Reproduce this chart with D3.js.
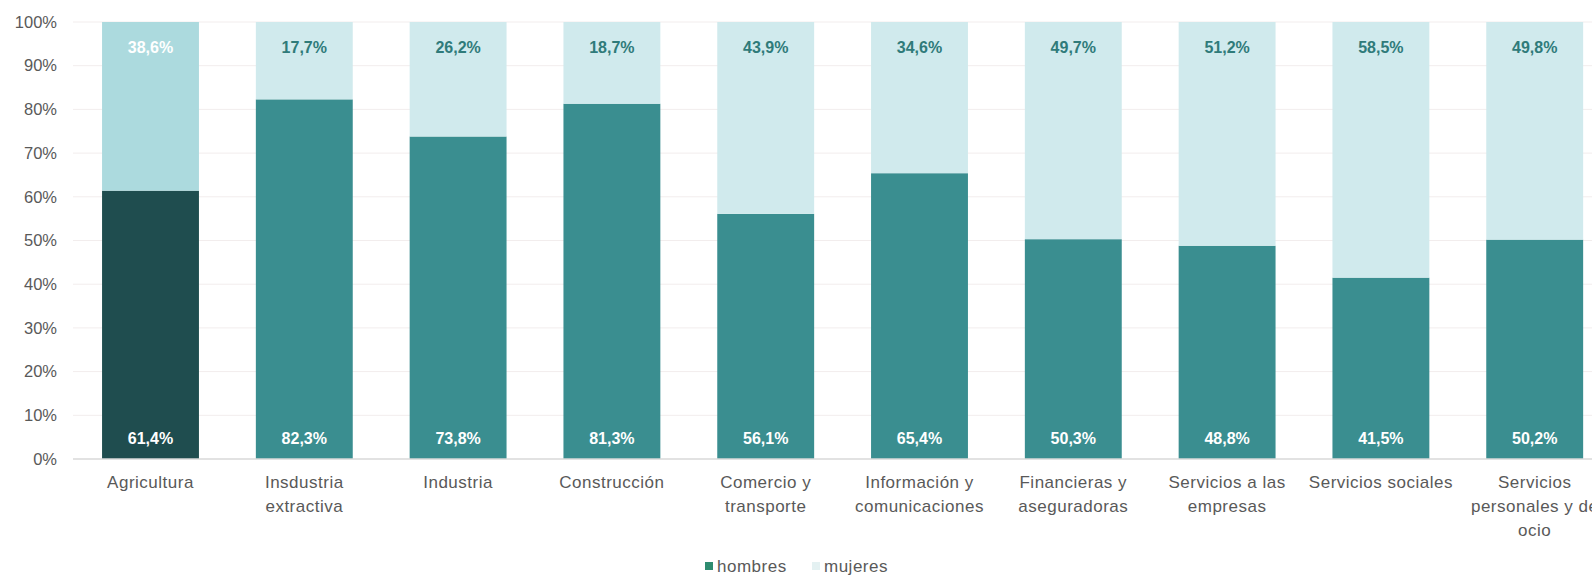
<!DOCTYPE html>
<html>
<head>
<meta charset="utf-8">
<script src="https://cdn.jsdelivr.net/npm/d3@7"></script>
<style>
  body { margin: 0; background: white; }
  svg { display: block; }
</style>
</head>
<body>
<div id="container"></div>
<script>
let w = 1592;
let h = 577;

// data
let sectores = [
  ["Agricultura"],
  ["Insdustria", "extractiva"],
  ["Industria"],
  ["Construcción"],
  ["Comercio y", "transporte"],
  ["Información y", "comunicaciones"],
  ["Financieras y", "aseguradoras"],
  ["Servicios a las", "empresas"],
  ["Servicios sociales"],
  ["Servicios", "personales y de", "ocio"]
];
let hombres = [61.4, 82.3, 73.8, 81.3, 56.1, 65.4, 50.3, 48.8, 41.5, 50.2];
let mujeres = [38.6, 17.7, 26.2, 18.7, 43.9, 34.6, 49.7, 51.2, 58.5, 49.8];
let yTicks = [0, 10, 20, 30, 40, 50, 60, 70, 80, 90, 100];
let series = ["hombres", "mujeres"];

let font = "'Liberation Sans', Arial, sans-serif";

let viz = d3.select("#container")
  .append("svg")
  .attr("width", w)
  .attr("height", h)
  .style("background-color", "white");

let xScale = d3.scaleBand()
  .domain(d3.range(sectores.length))
  .range([73.6, 1611.6])
  .paddingInner(0.37)
  .paddingOuter(0.185);

let yScale = d3.scaleLinear().domain([0, 100]).range([459, 22]);

// gridlines
viz.append("g")
  .selectAll("line")
  .data(yTicks.filter(d => d > 0))
  .enter()
  .append("line")
  .attr("x1", 73)
  .attr("x2", w)
  .attr("y1", d => yScale(d))
  .attr("y2", d => yScale(d))
  .attr("stroke", "#f2eded")
  .attr("stroke-width", 1);

// y axis labels
let yAxis = d3.axisLeft(yScale)
  .tickValues(yTicks)
  .tickFormat(d => d + "%")
  .tickSize(0)
  .tickPadding(0);

let yg = viz.append("g")
  .attr("transform", "translate(57,0)")
  .call(yAxis);
yg.select(".domain").remove();
yg.selectAll("text")
  .attr("fill", "#595959")
  .attr("font-size", "16.5px")
  .attr("font-family", font);

function manColor(i) {
  return i == 0 ? "#1f4d4f" : "#3a8e90";
}
function womanColor(i) {
  return i == 0 ? "#acdade" : "#d0eaed";
}

let groups = viz.selectAll(".datagroup").data(sectores).enter()
  .append("g")
  .attr("class", "datagroup");

groups.append("rect")
  .attr("x", (d, i) => xScale(i))
  .attr("width", xScale.bandwidth())
  .attr("y", (d, i) => yScale(hombres[i]))
  .attr("height", (d, i) => yScale(0) - yScale(hombres[i]))
  .attr("fill", (d, i) => manColor(i));

groups.append("rect")
  .attr("x", (d, i) => xScale(i))
  .attr("width", xScale.bandwidth())
  .attr("y", (d, i) => yScale(hombres[i] + mujeres[i]))
  .attr("height", (d, i) => yScale(hombres[i]) - yScale(hombres[i] + mujeres[i]))
  .attr("fill", (d, i) => womanColor(i));

function fmt(v) {
  return v.toFixed(1).replace(".", ",") + "%";
}

// value labels
groups.append("text")
  .text((d, i) => fmt(hombres[i]))
  .attr("x", (d, i) => xScale(i) + xScale.bandwidth() / 2)
  .attr("y", yScale(0) - 15)
  .attr("text-anchor", "middle")
  .attr("fill", "white")
  .attr("font-weight", "bold")
  .attr("font-size", "16px")
  .attr("font-family", font);

groups.append("text")
  .text((d, i) => fmt(mujeres[i]))
  .attr("x", (d, i) => xScale(i) + xScale.bandwidth() / 2)
  .attr("y", yScale(100) + 31)
  .attr("text-anchor", "middle")
  .attr("fill", (d, i) => i == 0 ? "white" : "#2f7b7a")
  .attr("font-weight", "bold")
  .attr("font-size", "16px")
  .attr("font-family", font);

// baseline
viz.append("line")
  .attr("x1", 73)
  .attr("x2", w)
  .attr("y1", yScale(0))
  .attr("y2", yScale(0))
  .attr("stroke", "#d9d9d9")
  .attr("stroke-width", 1.5);

// category labels
let labels = groups.append("text")
  .attr("x", (d, i) => xScale(i) + xScale.bandwidth() / 2)
  .attr("y", 488)
  .attr("text-anchor", "middle")
  .attr("fill", "#595959")
  .attr("font-size", "17px")
  .attr("letter-spacing", "0.5px")
  .attr("font-family", font);

labels.selectAll("tspan")
  .data(d => d)
  .enter()
  .append("tspan")
  .attr("x", function() { return d3.select(this.parentNode).attr("x"); })
  .attr("dy", (d, j) => j == 0 ? 0 : 24)
  .text(d => d);

// legend
let legendX = [705, 812];
let legendColors = ["#2e8c70", "#e4f1f2"];
let legend = viz.selectAll(".legend").data(series).enter()
  .append("g")
  .attr("class", "legend")
  .attr("transform", (d, i) => "translate(" + legendX[i] + ", 566)");

legend.append("rect")
  .attr("x", 0)
  .attr("y", -4)
  .attr("width", 8)
  .attr("height", 8)
  .attr("fill", (d, i) => legendColors[i]);

legend.append("text")
  .text(d => d)
  .attr("x", 12)
  .attr("y", 6)
  .attr("fill", "#595959")
  .attr("font-size", "17px")
  .attr("letter-spacing", "0.5px")
  .attr("font-family", font);
</script>
</body>
</html>
